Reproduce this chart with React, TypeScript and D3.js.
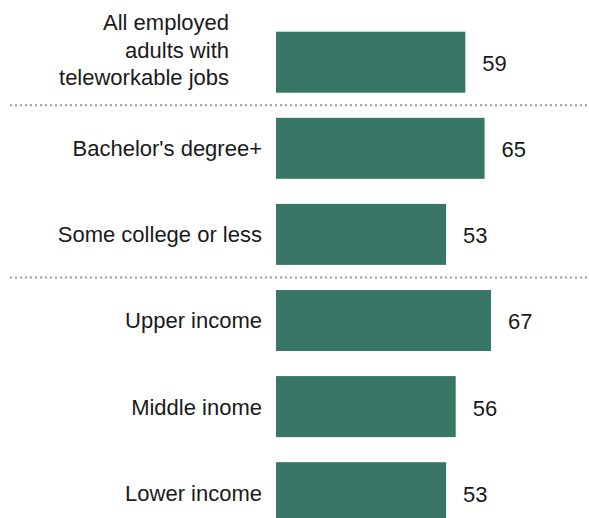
import React from "react";
import * as d3 from "d3";

const categories: string[][] = [
  ["All employed", "adults with", "teleworkable jobs"],
  ["Bachelor's degree+"],
  ["Some college or less"],
  ["Upper income"],
  ["Middle inome"],
  ["Lower income"],
];
const values: number[] = [59, 65, 53, 67, 56, 53];
const separatorsAfter: number[] = [0, 2];

const W = 589;
const H = 518;
const BAR_COLOR = "#387666";
const FONT = "'Liberation Sans', Arial, sans-serif";

export default function App() {
  const x = d3.scaleLinear().domain([0, 67]).range([276, 491]);
  const idx = d3.range(values.length);
  const stepPx = 86.1;
  const barPx = 61;
  const y = d3
    .scaleBand<number>()
    .domain(idx)
    .range([31.7, 31.7 + stepPx * 5 + barPx])
    .paddingInner(1 - barPx / stepPx)
    .paddingOuter(0);
  const bw = y.bandwidth();

  return (
    <svg
      width={W}
      height={H}
      style={{ position: "absolute", left: 0, top: 0, background: "#fff" }}
      fontFamily={FONT}
    >
      {separatorsAfter.map((i) => {
        const yy = (y(i)! + bw + y(i + 1)!) / 2;
        return (
          <line
            key={"sep" + i}
            x1={10}
            x2={W}
            y1={yy}
            y2={yy}
            stroke="#9a9a9a"
            strokeWidth={2}
            strokeDasharray="2 3"
          />
        );
      })}
      {idx.map((i) => {
        const yTop = y(i)!;
        const cy = yTop + bw / 2;
        const lines = categories[i];
        const multi = lines.length > 1;
        const rightX = multi ? 229 : 262;
        const lh = 27.5;
        return (
          <g key={i}>
            <rect
              x={x(0)}
              y={yTop}
              width={x(values[i]) - x(0)}
              height={bw}
              fill={BAR_COLOR}
            />
            <text
              x={x(values[i]) + 17}
              y={cy + 1}
              dy="0.36em"
              fontSize={22}
              fill="#1a1a1a"
            >
              {values[i]}
            </text>
            <text textAnchor="end" fontSize={22} fill="#1a1a1a">
              {lines.map((l, k) => (
                <tspan
                  key={k}
                  x={rightX}
                  y={multi ? cy - 4.5 + (k - 1) * lh : cy}
                  dy={multi ? 0 : "0.36em"}
                >
                  {l}
                </tspan>
              ))}
            </text>
          </g>
        );
      })}
    </svg>
  );
}
